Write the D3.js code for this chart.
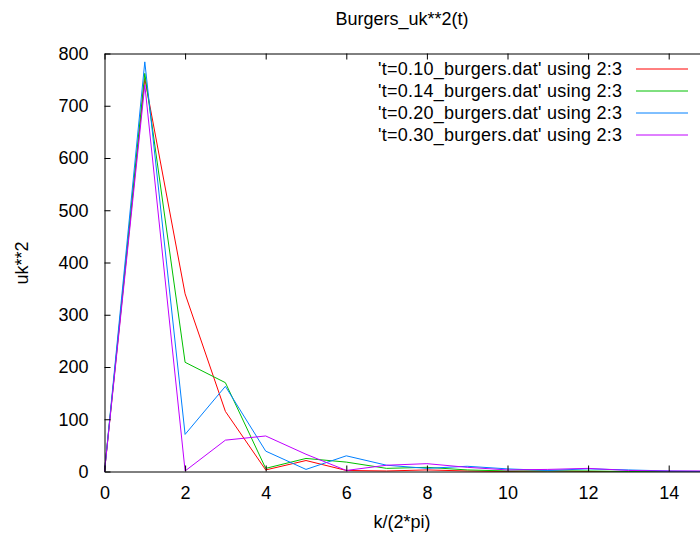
<!DOCTYPE html>
<html><head><meta charset="utf-8">
<script src="https://cdn.jsdelivr.net/npm/d3@7/dist/d3.min.js"></script>
<style>
body{margin:0;background:#fff}
text{font-family:"Liberation Sans",Arial,sans-serif;fill:#000}
</style>
</head><body>
<svg id="c" width="700" height="536"></svg>
<script>
// ---- data ----
const kValues = [0,1,2,3,4,5,6,7,8,9,10,11,12,13,14,15,16];
const t010 = [0,752,340,115,3,21,2,1,3,1,0,1,0,0,0,0,0];
const t014 = [0,762,209,170,6,25,18,6,8,3,1,1,1,0,0,0,0];
const t020 = [0,784,71,163,39,4,30,12,6,10,5,2,5,3,1,0,0];
const t030 = [0,740,1,60,68,33,2,12,15,8,3,4,6,2,1,1,0];
const seriesNames = [
  "'t=0.10_burgers.dat' using 2:3",
  "'t=0.14_burgers.dat' using 2:3",
  "'t=0.20_burgers.dat' using 2:3",
  "'t=0.30_burgers.dat' using 2:3"
];
const seriesColors = ["#ff0000","#00c000","#0080ff","#c000ff"];
const xTicks = [0,2,4,6,8,10,12,14,16];
const xTickLabels = ["0","2","4","6","8","10","12","14",""];
const yTicks = [0,100,200,300,400,500,600,700,800];
const titleText = "Burgers_uk**2(t)";
const xLabel = "k/(2*pi)";
const yLabel = "uk**2";

// ---- layout ----
const svg = d3.select("#c");
svg.append("rect").attr("width",700).attr("height",536).attr("fill","#fff");
const plotLeft = 104.5, plotTop = 53.5, plotBottom = 471.5, unit = 40.3;
const x = d3.scaleLinear().domain([0,16]).range([plotLeft, plotLeft + 16*unit]);
const y = d3.scaleLinear().domain([0,800]).range([plotBottom, plotTop]);

const series = [t010,t014,t020,t030];

// lines
const line = d3.line().x((d,i)=>x(kValues[i])).y(d=>y(d));
series.forEach((s,i)=>{
  svg.append("path").datum(s)
    .attr("d", line)
    .attr("fill","none")
    .attr("stroke", seriesColors[i])
    .attr("stroke-width",1);
});

// axes
function styleAxis(g){
  g.selectAll("path.domain").attr("stroke","#000").attr("stroke-width",1);
  g.selectAll(".tick line").attr("stroke","#000").attr("stroke-width",1);
  g.selectAll(".tick text").attr("font-size","18px").attr("fill","#000")
    .attr("font-family",'"Liberation Sans",Arial,sans-serif');
}
svg.append("g").attr("transform",`translate(${plotLeft},0)`)
  .call(d3.axisLeft(y).tickValues(yTicks).tickSizeInner(-6).tickSizeOuter(0).tickPadding(16))
  .call(styleAxis);
svg.append("g").attr("transform",`translate(0,${plotBottom})`)
  .call(d3.axisBottom(x).tickValues(xTicks).tickSizeInner(-6).tickSizeOuter(0).tickPadding(15)
        .tickFormat((d,i)=>xTickLabels[i]))
  .call(styleAxis);
svg.append("g").attr("transform",`translate(0,${plotTop})`)
  .call(d3.axisTop(x).tickValues(xTicks).tickSizeInner(-6).tickSizeOuter(0).tickFormat(""))
  .call(styleAxis);

// title & labels
svg.append("text").attr("x",402).attr("y",25).attr("text-anchor","middle")
  .attr("font-size","18px").text(titleText);
svg.append("text").attr("x",402).attr("y",528).attr("text-anchor","middle")
  .attr("font-size","18px").text(xLabel);
svg.append("text").attr("transform","translate(28,263) rotate(-90)")
  .attr("text-anchor","middle").attr("font-size","18px").text(yLabel);

// legend
const legendRows = [69,91,113,135];
seriesNames.forEach((n,i)=>{
  const cy = legendRows[i];
  svg.append("text").attr("x",378).attr("y",cy+6).attr("text-anchor","start")
    .attr("font-size","18px").attr("textLength",244).attr("lengthAdjust","spacing").text(n);
  svg.append("line").attr("x1",636).attr("x2",688).attr("y1",cy).attr("y2",cy)
    .attr("stroke",seriesColors[i]).attr("stroke-width",1);
});
</script>
</body></html>
